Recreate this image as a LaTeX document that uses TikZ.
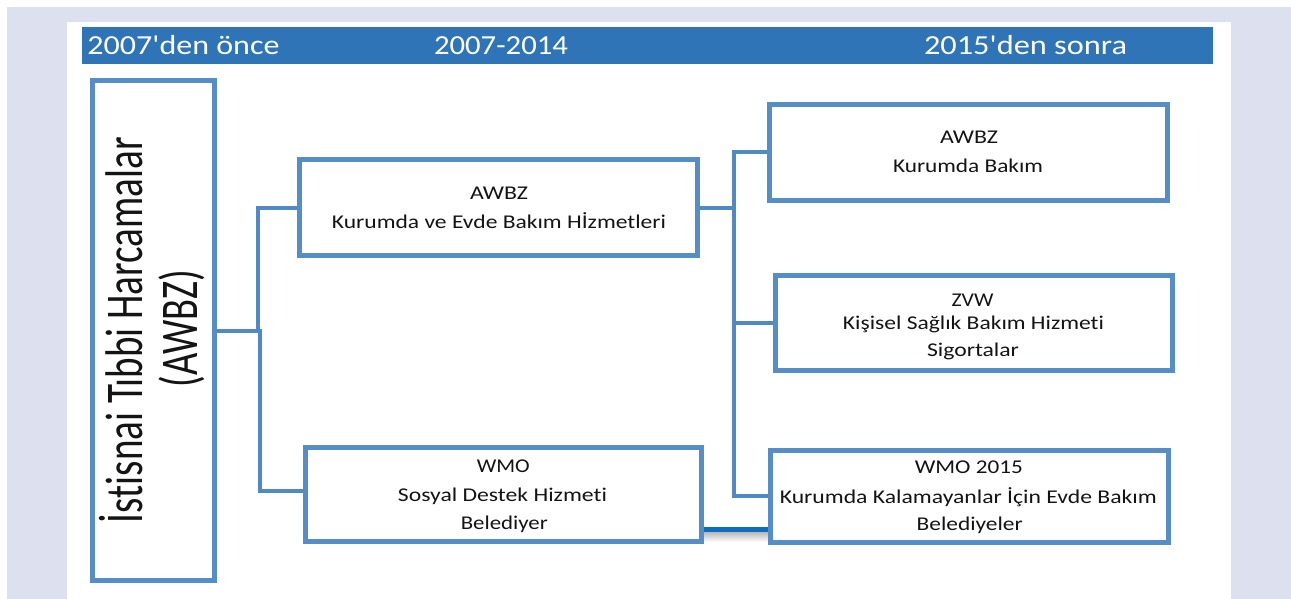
\documentclass[tikz,border=0pt]{standalone}
\usepackage{fontspec}
\setmainfont{Carlito}[Ligatures={TeXOff,NoCommon}]
\usepackage{graphicx}
\newcommand{\fitw}[2]{\resizebox{#1pt}{\height}{#2}}
\definecolor{lav}{HTML}{DDE0EE}
\definecolor{hdr}{HTML}{2E74B6}
\definecolor{bord}{HTML}{558DC6}
\definecolor{connc}{HTML}{5089C4}
\definecolor{dkc}{HTML}{0F6DC0}
\definecolor{txtc}{HTML}{141414}
\tikzset{
  bx/.style={draw=bord, line width=5pt, fill=white, inner sep=0pt, outer sep=0pt},
  conn/.style={draw=connc, line width=4pt},
  dkconn/.style={draw=dkc, line width=4.5pt},
  txt/.style={inner sep=0pt, anchor=base, text=txtc, font=\fontsize{19.5}{19.5}\selectfont},
  htxt/.style={inner sep=0pt, anchor=base, text=white, font=\fontsize{27.5}{27.5}\selectfont},
  rtxt/.style={inner sep=0pt, anchor=base, rotate=90, text=txtc, font=\fontsize{53}{53}\selectfont}
}
\begin{document}
\begin{tikzpicture}[x=1pt,y=-1pt]
\useasboundingbox (0,0) rectangle (1291,599);
% backgrounds
\fill[white] (0,0) rectangle (1291,599);
\fill[lav] (7,7) rectangle (1291,599);
\fill[white] (67,22) rectangle (1231,599);
% header
\fill[hdr] (82,27) rectangle (1213,64);
\node[htxt] (h1) at (183.5,54.7) {\fitw{192}{2007'den önce}};
\node[htxt] (h2) at (501,54.7) {\fitw{134}{2007-2014}};
\node[htxt] (h3) at (1025.5,54.7) {\fitw{203}{2015'den sonra}};
% shadow under the lower connector
\shade[top color=black!28, bottom color=white] (703,532) rectangle (769,542);
% boxes
\node[bx, minimum width=121.5pt, minimum height=499.7pt] (L) at (153.25,330.65) {};
\node[bx, minimum width=397.7pt, minimum height=96pt] (A) at (498.65,207.8) {};
\node[bx, minimum width=397.7pt, minimum height=95pt] (B) at (968.65,152.5) {};
\node[bx, minimum width=397.6pt, minimum height=95pt] (C) at (974,322.7) {};
\node[bx, minimum width=395.5pt, minimum height=93.5pt] (D) at (503.25,494.25) {};
\node[bx, minimum width=397.5pt, minimum height=92pt] (E) at (969.25,496) {};
% connectors
\draw[conn] (L.east) -- ++(43.5,0) |- (A.west);
\draw[conn] (L.east) -- ++(46,0) |- ([yshift=3.75pt]D.west);
\draw[conn] (A.east) -- ++(36.5,0) |- (B.west);
\draw[conn] (A.east) -- ++(36.5,0) |- (C.west);
\draw[conn] (A.east) -- ++(36.5,0) |- (E.west);
\draw[dkconn] ([yshift=-35.25pt]D.east) -- ([yshift=-35.25pt]D.east -| E.west);
% redraw box borders over connector ends
\foreach \n in {L,A,B,C,D,E}{
  \draw[draw=bord, line width=5pt] (\n.north west) rectangle (\n.south east);
}
% rotated text
\node[rtxt] (Lt1) at (142,330) {\fitw{386}{İstisnai Tıbbi Harcamalar}};
\node[rtxt] (Lt2) at (197,328.5) {\fitw{117}{(AWBZ)}};
% box texts
\node[txt] (At1) at (499,200) {\fitw{58}{AWBZ}};
\node[txt] (At2) at (499,228.3) {\fitw{334}{Kurumda ve Evde Bakım Hİzmetleri}};
\node[txt] (Bt1) at (969,143.3) {\fitw{58}{AWBZ}};
\node[txt] (Bt2) at (968,172) {\fitw{150}{Kurumda Bakım}};
\node[txt] (Ct1) at (972.5,306) {\fitw{42}{ZVW}};
\node[txt] (Ct2) at (973.5,329) {\fitw{261}{Kişisel Sağlık Bakım Hizmeti}};
\node[txt] (Ct3) at (973,356.7) {\fitw{92}{Sigortalar}};
\node[txt] (Dt1) at (503.3,472.3) {\fitw{53}{WMO}};
\node[txt] (Dt2) at (502.5,501) {\fitw{209}{Sosyal Destek Hizmeti}};
\node[txt] (Dt3) at (504.3,529.3) {\fitw{87}{Belediyer}};
\node[txt] (Et1) at (968.8,473.3) {\fitw{108}{WMO 2015}};
\node[txt] (Et2) at (968.3,503.3) {\fitw{377}{Kurumda Kalamayanlar İçin Evde Bakım}};
\node[txt] (Et3) at (969.7,530.7) {\fitw{106}{Belediyeler}};
\end{tikzpicture}
\end{document}
